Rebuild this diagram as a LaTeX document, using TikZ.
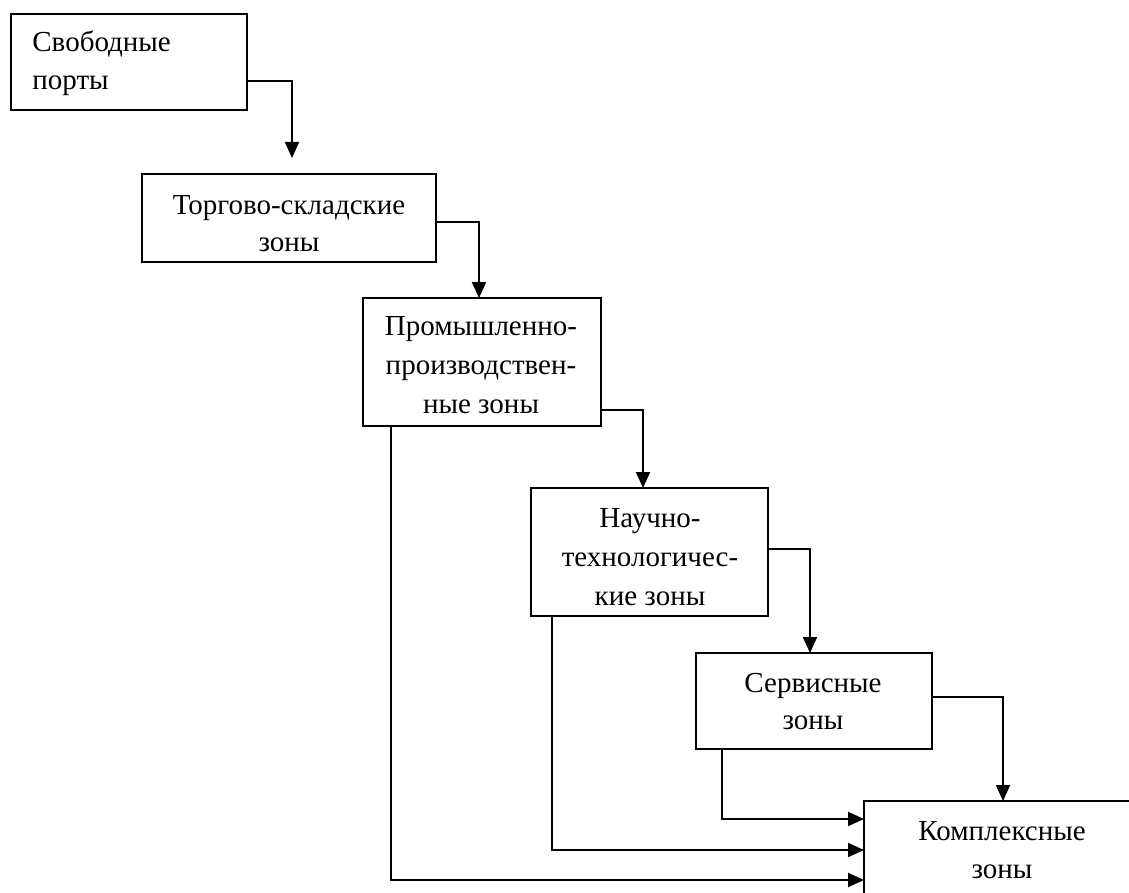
\documentclass[tikz,border=0pt]{standalone}
\usepackage{fontspec}
\setmainfont{Liberation Serif}
\usetikzlibrary{arrows.meta}
\begin{document}
\begin{tikzpicture}[x=0.5pt,y=-0.5pt,
  box/.style={draw, line width=1pt, rectangle, inner sep=0pt, outer sep=0pt},
  txt/.style={inner sep=0pt, font=\fontsize{14.5pt}{19pt}\selectfont},
  conn/.style={line width=1pt, -{Triangle[length=8pt,width=7pt]}}]
\clip (0,0) rectangle (1129,893);
\fill[white] (0,0) rectangle (1129,893);
% boxes
\node[box, minimum width=118pt, minimum height=48pt] (b1) at (129,62) {};
\node[box, minimum width=147pt, minimum height=44pt] (b2) at (289,218) {};
\node[box, minimum width=119pt, minimum height=64pt] (b3) at (482,362) {};
\node[box, minimum width=118.5pt, minimum height=64pt] (b4) at (649.5,552) {};
\node[box, minimum width=118pt, minimum height=48pt] (b5) at (814,701) {};
\node[box, minimum width=138pt, minimum height=64.5pt] (b6) at (1002,865.5) {};
% texts
\node[txt, anchor=base west] (t1a) at (32,52) {Свободные};
\node[txt, anchor=base west] (t1b) at (32,90) {порты};
\node[txt, anchor=base] (t2a) at (289,215) {Торгово-складские};
\node[txt, anchor=base] (t2b) at (289,252) {зоны};
\node[txt, anchor=base] (t3a) at (481,335) {Промышленно-};
\node[txt, anchor=base] (t3b) at (481,374) {производствен-};
\node[txt, anchor=base] (t3c) at (481,413) {ные зоны};
\node[txt, anchor=base] (t4a) at (650,527) {Научно-};
\node[txt, anchor=base] (t4b) at (650,566) {технологичес-};
\node[txt, anchor=base] (t4c) at (650,605) {кие зоны};
\node[txt, anchor=base] (t5a) at (813,692) {Сервисные};
\node[txt, anchor=base] (t5b) at (813,729) {зоны};
\node[txt, anchor=base] (t6a) at (1002,840) {Комплексные};
\node[txt, anchor=base] (t6b) at (1002,878) {зоны};
% connectors
\coordinate (e12) at (292,158);
\draw[conn] (b1.east|-0,81) -| (e12);
\draw[conn] (b2.east|-0,222) -| (b3.north-|479,0);
\draw[conn] (b3.east|-0,410) -| (b4.north-|643,0);
\draw[conn] (b4.east|-0,549) -| (b5.north-|810,0);
\draw[conn] (b5.east|-0,697) -| (b6.north-|1003,0);
\draw[conn] (b3.south-|391,0) |- (b6.west|-0,880);
\draw[conn] (b4.south-|552,0) |- (b6.west|-0,850);
\draw[conn] (b5.south-|722,0) |- (b6.west|-0,819);
\end{tikzpicture}
\end{document}
